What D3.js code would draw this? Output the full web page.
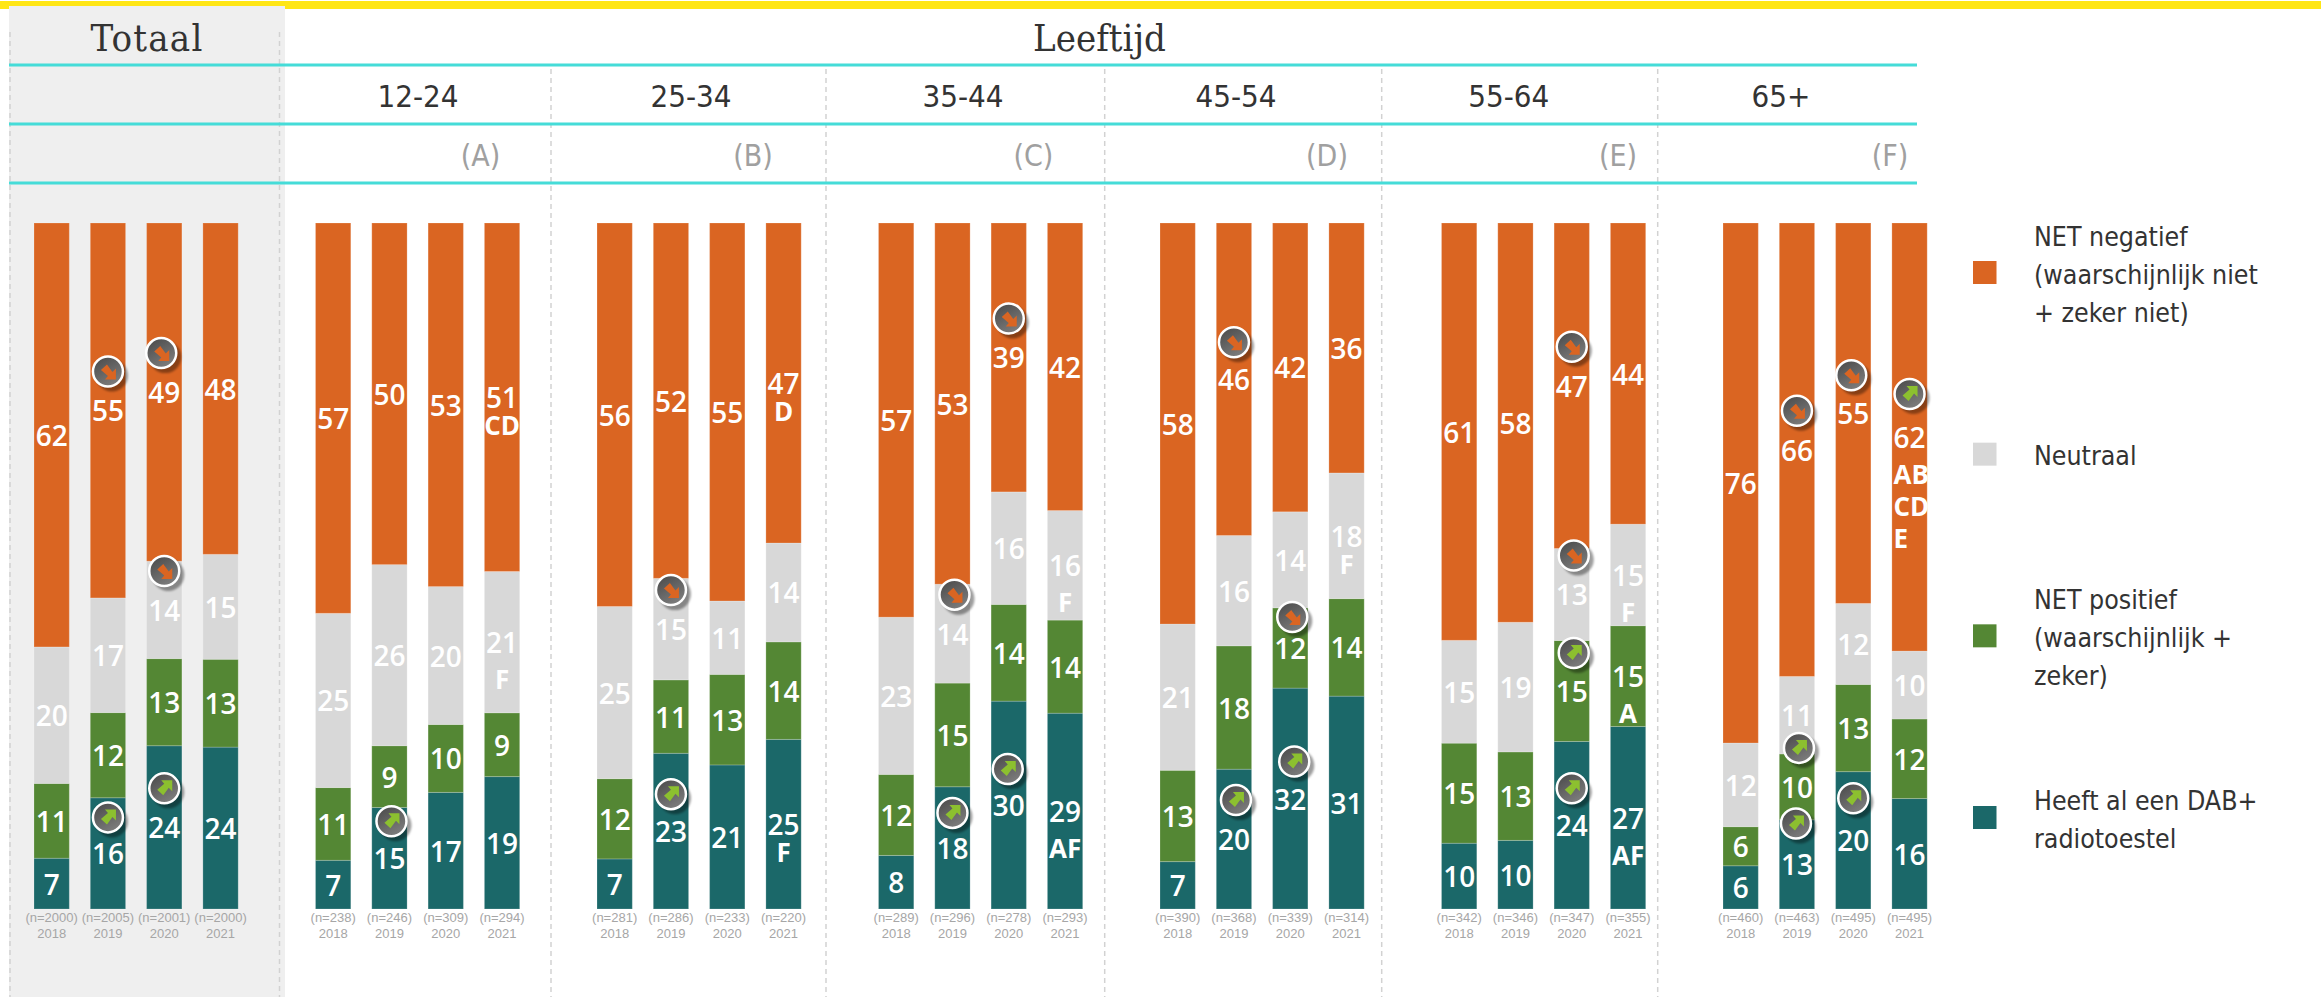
<!DOCTYPE html>
<html>
<head>
<meta charset="utf-8">
<title>DAB+ radiotoestel</title>
<script src="https://cdn.jsdelivr.net/npm/d3@7"></script>
<style>
    html, body { margin: 0; padding: 0; background: #fff; }
    svg { display: block; }
</style>
</head>
<body>
<div id="chart"></div>
<script>
// data, one row per group, one value per year
var groepen = ["Totaal", "12-24", "25-34", "35-44", "45-54", "55-64", "65+"];
var jaren = ["2018", "2019", "2020", "2021"];
var codes = ["", "(A)", "(B)", "(C)", "(D)", "(E)", "(F)"];

var heeftDab = [
    [7.4, 16.2, 23.8, 23.6],
    [7.1, 14.8, 17.0, 19.3],
    [7.3, 22.7, 21.0, 24.7],
    [7.8, 17.8, 30.3, 28.6],
    [6.9, 20.4, 32.2, 31.0],
    [9.6, 10.0, 24.4, 26.6],
    [6.3, 13.0, 20.0, 16.1]
];
var netPositief = [
    [10.9, 12.4, 12.7, 12.8],
    [10.6, 9.0, 9.9, 9.3],
    [11.7, 10.7, 13.2, 14.2],
    [11.8, 15.1, 14.1, 13.6],
    [13.3, 18.0, 11.7, 14.2],
    [14.6, 12.9, 14.7, 14.7],
    [5.7, 9.6, 12.7, 11.6]
];
var neutraal = [
    [19.9, 16.7, 14.2, 15.3],
    [25.4, 26.4, 20.1, 20.6],
    [25.1, 14.8, 10.7, 14.4],
    [22.9, 14.4, 16.4, 16.0],
    [21.3, 16.1, 14.0, 18.3],
    [15.0, 18.9, 13.4, 14.8],
    [12.2, 11.3, 11.8, 9.9]
];
var netNegatief = [
    [61.8, 54.6, 49.3, 48.3],
    [56.9, 49.8, 53.0, 50.8],
    [55.9, 51.8, 55.1, 46.6],
    [57.4, 52.6, 39.2, 42.0],
    [58.4, 45.6, 42.1, 36.4],
    [60.9, 58.2, 47.4, 43.9],
    [75.8, 66.1, 55.4, 62.4]
];
var aantallen = [
    [2000, 2005, 2001, 2000],
    [238, 246, 309, 294],
    [281, 286, 233, 220],
    [289, 296, 278, 293],
    [390, 368, 339, 314],
    [342, 346, 347, 355],
    [460, 463, 495, 495]
];

var reeksNamen = ["dab", "pos", "neu", "neg"];
var reeksWaarden = { dab: heeftDab, pos: netPositief, neu: neutraal, neg: netNegatief };
var kleuren = { dab: "#1b6869", pos: "#548734", neu: "#d8d8d8", neg: "#da6522" };

// [groep, jaar, reeks, richting] significante trends
var pijlen = [
    ["Totaal", "2019", "neg", "neer"], ["Totaal", "2020", "neg", "neer"], ["Totaal", "2020", "neu", "neer"],
    ["Totaal", "2019", "dab", "op"], ["Totaal", "2020", "dab", "op"],
    ["12-24", "2019", "dab", "op"],
    ["25-34", "2019", "neu", "neer"], ["25-34", "2019", "dab", "op"],
    ["35-44", "2020", "neg", "neer"], ["35-44", "2019", "neu", "neer"], ["35-44", "2019", "dab", "op"], ["35-44", "2020", "dab", "op"],
    ["45-54", "2019", "neg", "neer"], ["45-54", "2019", "dab", "op"], ["45-54", "2020", "pos", "neer"], ["45-54", "2020", "dab", "op"],
    ["55-64", "2020", "neg", "neer"], ["55-64", "2020", "neu", "neer"], ["55-64", "2020", "pos", "op"], ["55-64", "2020", "dab", "op"],
    ["65+", "2019", "neg", "neer"], ["65+", "2020", "neg", "neer"], ["65+", "2021", "neg", "op"],
    ["65+", "2019", "pos", "op"], ["65+", "2019", "dab", "op"], ["65+", "2020", "dab", "op"]
];

// handmatige correcties voor de pijlen die niet netjes op de standaardplek staan
var pijlNudge = {
    "Totaal|2019|dab": [0, 3], "Totaal|2020|neg": [-3, 0],
    "12-24|2019|dab": [2, 2], "25-34|2019|dab": [0, 2],
    "35-44|2019|neu": [2, 0], "35-44|2019|dab": [0, 4], "35-44|2020|dab": [-1, 3],
    "45-54|2019|neg": [0, 2], "45-54|2019|dab": [2, 0], "45-54|2020|pos": [2, 8], "45-54|2020|dab": [4, 2],
    "55-64|2020|neu": [2, 0], "55-64|2020|pos": [2, 1], "55-64|2020|dab": [0, 2],
    "65+|2020|neg": [-2, 1], "65+|2021|neg": [0, -4], "65+|2019|pos": [2, 0], "65+|2019|dab": [-1, -2], "65+|2020|dab": [0, -3]
};

// [groep, jaar, reeks, letters, krap] significante verschillen tussen de groepen
var letters = [
    ["12-24", "2021", "neg", ["CD"], true], ["12-24", "2021", "neu", ["F"], false],
    ["25-34", "2021", "neg", ["D"], true], ["25-34", "2021", "dab", ["F"], true],
    ["35-44", "2021", "neu", ["F"], false], ["35-44", "2021", "dab", ["AF"], false],
    ["45-54", "2021", "neu", ["F"], true],
    ["55-64", "2021", "neu", ["F"], false], ["55-64", "2021", "pos", ["A"], false], ["55-64", "2021", "dab", ["AF"], false],
    ["65+", "2021", "neg", ["AB", "CD", "E"], false]
];

var legendeItems = [
    { reeks: "neg", regels: ["NET negatief", "(waarschijnlijk niet", "+ zeker niet)"] },
    { reeks: "neu", regels: ["Neutraal"] },
    { reeks: "pos", regels: ["NET positief", "(waarschijnlijk +", "zeker)"] },
    { reeks: "dab", regels: ["Heeft al een DAB+", "radiotoestel"] }
];

var hoofdFont = "'Open Sans', sans-serif";
var width = 2321, height = 997;

var svg = d3.select("#chart").append("svg")
    .attr("width", width)
    .attr("height", height);

var defs = svg.append("defs");
var grad = defs.append("linearGradient")
    .attr("id", "pijlVulling")
    .attr("x1", 0).attr("y1", 0).attr("x2", 0.6).attr("y2", 1);
grad.append("stop").attr("offset", "0%").attr("stop-color", "#474747");
grad.append("stop").attr("offset", "100%").attr("stop-color", "#7c7c7c");
defs.append("filter")
    .attr("id", "schaduw")
    .attr("x", "-30%").attr("y", "-30%").attr("width", "160%").attr("height", "160%")
    .append("feGaussianBlur")
    .attr("stdDeviation", 1);

// scales
var xGroep = d3.scaleBand()
    .domain(groepen)
    .range([34, 34 + 7 * 281.5]);

var xJaar = d3.scaleBand()
    .domain(jaren)
    .range([0, 204.2])
    .paddingInner(0.373);

var y = d3.scaleLinear()
    .domain([0, 1])
    .range([909, 223]);

var legendeY = d3.scalePoint()
    .domain(legendeItems.map(function (d) { return d.reeks; }))
    .range([272.5, 817.5]);

// table for d3.stack
var rijen = [];
groepen.forEach(function (g, gi) {
    jaren.forEach(function (j, ji) {
        var rij = { groep: g, jaar: j, n: aantallen[gi][ji] };
        reeksNamen.forEach(function (r) { rij[r] = reeksWaarden[r][gi][ji]; });
        rijen.push(rij);
    });
});

var stack = d3.stack()
    .keys(reeksNamen)
    .offset(d3.stackOffsetExpand);
var lagen = stack(rijen);

function barX(d) {
    return xGroep(d.groep) + xJaar(d.jaar);
}
function midX(groep, jaar) {
    return xGroep(groep) + xJaar(jaar) + xJaar.bandwidth() / 2;
}
// midden van een segment, hier komen de cijfers te staan
function midY(groep, jaar, reeks) {
    var laag = lagen[reeksNamen.indexOf(reeks)];
    var seg = laag[groepen.indexOf(groep) * jaren.length + jaren.indexOf(jaar)];
    return y((seg[0] + seg[1]) / 2);
}

// yellow band and the Totaal panel
svg.append("rect")
    .attr("x", 0).attr("y", 1)
    .attr("width", width).attr("height", 8)
    .attr("fill", "#ffe615");
svg.append("rect")
    .attr("x", 9).attr("y", 6)
    .attr("width", 276).attr("height", height - 6)
    .attr("fill", "#efefef");

// dashed separators
var scheidingen = [
    { x: 10, top: 32 }, { x: 279.5, top: 32 }, { x: 551, top: 69 }, { x: 826, top: 69 },
    { x: 1104.7, top: 69 }, { x: 1381.7, top: 69 }, { x: 1657.7, top: 69 }
];
svg.selectAll(".scheiding")
    .data(scheidingen)
    .enter().append("line")
    .attr("class", "scheiding")
    .attr("x1", function (d) { return d.x; })
    .attr("x2", function (d) { return d.x; })
    .attr("y1", function (d) { return d.top; })
    .attr("y2", height)
    .attr("stroke", "#d2d2d2")
    .attr("stroke-width", 1.5)
    .attr("stroke-dasharray", "5,4");

// teal header rules
svg.selectAll(".regel")
    .data([65, 124, 183])
    .enter().append("line")
    .attr("class", "regel")
    .attr("x1", 9).attr("x2", 1917)
    .attr("y1", function (d) { return d; })
    .attr("y2", function (d) { return d; })
    .attr("stroke", "#45dcd8")
    .attr("stroke-width", 3);

// header texts
var koppen = [
    { tekst: "Totaal", x: 147, spatie: "1.2px" },
    { tekst: "Leeftijd", x: 1099.5, spatie: "0px" }
];
svg.selectAll(".kop")
    .data(koppen)
    .enter().append("text")
    .attr("class", "kop")
    .attr("x", function (d) { return d.x; })
    .attr("y", 51)
    .attr("text-anchor", "middle")
    .style("font-family", "'DejaVu Serif Condensed', 'DejaVu Serif', serif")
    .style("font-size", "38px")
    .style("letter-spacing", function (d) { return d.spatie; })
    .style("fill", "#333")
    .text(function (d) { return d.tekst; });

var leeftijdX = [418, 691, 963, 1236, 1508.7, 1781];
svg.selectAll(".leeftijd")
    .data(groepen.slice(1))
    .enter().append("text")
    .attr("class", "leeftijd")
    .attr("x", function (d, i) { return leeftijdX[i]; })
    .attr("y", 107)
    .attr("text-anchor", "middle")
    .style("font-family", "'DejaVu Sans Condensed', sans-serif")
    .style("font-size", "31px")
    .style("fill", "#333")
    .text(function (d) { return d; });

var codeX = [480.5, 753, 1033.4, 1327, 1618, 1890];
svg.selectAll(".code")
    .data(codes.slice(1))
    .enter().append("text")
    .attr("class", "code")
    .attr("x", function (d, i) { return codeX[i]; })
    .attr("y", 166)
    .attr("text-anchor", "middle")
    .style("font-family", "'DejaVu Sans Condensed', sans-serif")
    .style("font-size", "30px")
    .style("fill", "#a0a0a0")
    .text(function (d) { return d; });

// stacked bars
svg.selectAll(".laag")
    .data(lagen)
    .enter().append("g")
    .attr("class", "laag")
    .attr("fill", function (d) { return kleuren[d.key]; })
    .selectAll("rect")
    .data(function (d) { return d; })
    .enter().append("rect")
    .attr("x", function (d) { return barX(d.data); })
    .attr("y", function (d) { return y(d[1]); })
    .attr("width", xJaar.bandwidth())
    .attr("height", function (d) { return y(d[0]) - y(d[1]); })
    .attr("stroke", "#fff")
    .attr("stroke-opacity", 0.2)
    .attr("stroke-width", 1);

// value labels
svg.selectAll(".waardeLaag")
    .data(lagen)
    .enter().append("g")
    .attr("class", "waardeLaag")
    .selectAll("text")
    .data(function (d) { return d; })
    .enter().append("text")
    .attr("x", function (d) { return barX(d.data) + xJaar.bandwidth() / 2; })
    .attr("y", function (d) { return y((d[0] + d[1]) / 2) + 11; })
    .attr("text-anchor", "middle")
    .style("font-family", hoofdFont)
    .style("font-size", "28px")
    .style("font-weight", 600)
    .style("fill", "#fff")
    .text(function (d) {
        var r = d3.select(this.parentNode).datum().key;
        return Math.round(d.data[r]);
    });

// significance letters under the values
letters.forEach(function (l) {
    var meer = l[3].length > 1;
    var basis = midY(l[0], l[1], l[2]) + 11 + (l[4] ? 27 : 36);
    svg.selectAll(null)
        .data(l[3])
        .enter().append("text")
        .attr("x", midX(l[0], l[1]) + (meer ? -16 : 0))
        .attr("y", function (d, i) { return basis + i * 32; })
        .attr("text-anchor", meer ? "start" : "middle")
        .style("font-family", hoofdFont)
        .style("font-size", "26px")
        .style("font-weight", 700)
        .style("fill", "#fff")
        .text(function (d) { return d; });
});

// trend markers, 39px above the value they belong to
var pijlPad = "M-3,-8L8,-8L8,3L4.5,-0.5L-1,7L-7,1.5L0,-4.5Z";
function nudge(d) {
    return pijlNudge[d[0] + "|" + d[1] + "|" + d[2]] || [0, 0];
}
var pijlGroep = svg.selectAll(".pijl")
    .data(pijlen)
    .enter().append("g")
    .attr("class", "pijl")
    .attr("transform", function (d) {
        var n = nudge(d);
        return "translate(" + (midX(d[0], d[1]) + n[0]) + "," + (midY(d[0], d[1], d[2]) - 39 + n[1]) + ")";
    });
pijlGroep.append("circle")
    .attr("cx", 4).attr("cy", 4).attr("r", 16)
    .attr("fill", "#000")
    .attr("fill-opacity", 0.38)
    .attr("filter", "url(#schaduw)");
pijlGroep.append("circle")
    .attr("r", 15)
    .attr("fill", "url(#pijlVulling)")
    .attr("stroke", "#fff")
    .attr("stroke-width", 2.5);
pijlGroep.append("path")
    .attr("d", pijlPad)
    .attr("transform", function (d) { return d[3] === "op" ? null : "scale(1,-1)"; })
    .attr("fill", function (d) { return d[3] === "op" ? "#8cc02f" : "#da6522"; });

// n and year below each bar
svg.selectAll(".aantal")
    .data(rijen)
    .enter().append("text")
    .attr("class", "aantal")
    .attr("x", function (d) { return barX(d) + xJaar.bandwidth() / 2; })
    .attr("y", 922)
    .attr("text-anchor", "middle")
    .style("font-family", "'Liberation Sans', Arial, sans-serif")
    .style("font-size", "13px")
    .style("fill", "#a6a6a6")
    .text(function (d) { return "(n=" + d.n + ")"; });
svg.selectAll(".jaar")
    .data(rijen)
    .enter().append("text")
    .attr("class", "jaar")
    .attr("x", function (d) { return barX(d) + xJaar.bandwidth() / 2; })
    .attr("y", 938)
    .attr("text-anchor", "middle")
    .style("font-family", "'Liberation Sans', Arial, sans-serif")
    .style("font-size", "13px")
    .style("fill", "#a6a6a6")
    .text(function (d) { return d.jaar; });

// legend
var legende = svg.selectAll(".legende")
    .data(legendeItems)
    .enter().append("g")
    .attr("class", "legende")
    .attr("transform", function (d) { return "translate(0," + legendeY(d.reeks) + ")"; });
legende.append("rect")
    .attr("x", 1973).attr("y", -11.5)
    .attr("width", 23.5).attr("height", 23)
    .attr("fill", function (d) { return kleuren[d.reeks]; });
legende.append("text")
    .style("font-family", "'DejaVu Sans Condensed', sans-serif")
    .style("font-size", "26.5px")
    .style("fill", "#333")
    .selectAll("tspan")
    .data(function (d) {
        return d.regels.map(function (t, i) {
            return { tekst: t, y: 11 + (i - (d.regels.length - 1) / 2) * 38 };
        });
    })
    .enter().append("tspan")
    .attr("x", 2034)
    .attr("y", function (d) { return d.y; })
    .text(function (d) { return d.tekst; });
</script>
</body>
</html>
